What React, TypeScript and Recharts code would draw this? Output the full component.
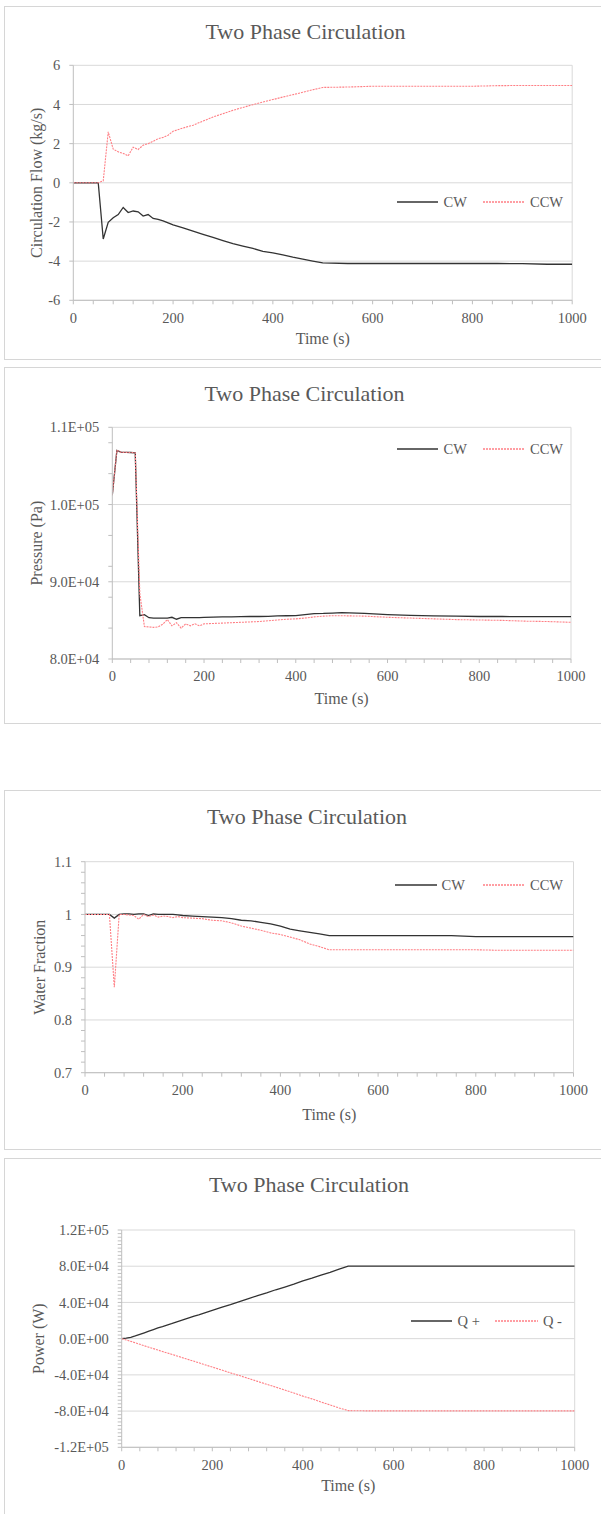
import React from 'react';
import { LineChart, Line, XAxis, YAxis, CartesianGrid, Legend } from 'recharts';

// ---------- data ----------
const TIME = [0, 10, 20, 30, 40, 50, 60, 70, 80, 90, 100, 110, 120, 130, 140, 150, 160, 170, 180, 190, 200, 220, 240, 260, 280, 300, 320, 340, 360, 380, 400, 420, 440, 460, 480, 500, 550, 600, 650, 700, 750, 800, 850, 900, 950, 1000];

const FLOW_CW = [0, 0, 0, 0, 0, 0, -2.87, -2.02, -1.78, -1.62, -1.26, -1.52, -1.44, -1.48, -1.7, -1.62, -1.82, -1.87, -1.95, -2.05, -2.15, -2.3, -2.47, -2.63, -2.79, -2.95, -3.1, -3.23, -3.35, -3.5, -3.58, -3.68, -3.8, -3.9, -4.0, -4.09, -4.12, -4.12, -4.12, -4.12, -4.12, -4.12, -4.12, -4.13, -4.16, -4.16];
const FLOW_CCW = [0, 0, 0, 0, 0, 0, 0.1, 2.6, 1.72, 1.58, 1.5, 1.38, 1.82, 1.7, 1.92, 2.0, 2.12, 2.25, 2.32, 2.43, 2.63, 2.8, 2.94, 3.15, 3.36, 3.53, 3.7, 3.85, 3.99, 4.12, 4.25, 4.38, 4.5, 4.62, 4.75, 4.87, 4.89, 4.93, 4.93, 4.93, 4.93, 4.93, 4.96, 4.97, 4.97, 4.97];

const PRESSURE_CW = [101200, 107000, 106750, 106750, 106740, 106700, 85600, 85750, 85350, 85300, 85300, 85300, 85300, 85400, 85150, 85350, 85350, 85350, 85350, 85350, 85380, 85420, 85450, 85450, 85480, 85500, 85500, 85520, 85580, 85600, 85620, 85750, 85880, 85900, 85950, 86000, 85900, 85750, 85650, 85580, 85550, 85500, 85500, 85480, 85480, 85480];
const PRESSURE_CCW = [101200, 107000, 106750, 106750, 106740, 106700, 88500, 84200, 84150, 84100, 84150, 84500, 85100, 84300, 84700, 84000, 84550, 84300, 84550, 84300, 84550, 84600, 84650, 84700, 84750, 84800, 84850, 84950, 85050, 85150, 85200, 85300, 85450, 85550, 85600, 85600, 85550, 85400, 85300, 85200, 85100, 85050, 85000, 84900, 84850, 84750];

const WATER_CW = [1, 1, 1, 1, 1, 1, 0.993, 1, 1.001, 1.001, 1, 1.001, 1.001, 0.998, 1.001, 1, 1, 1, 1, 0.999, 0.998, 0.997, 0.996, 0.995, 0.994, 0.992, 0.989, 0.988, 0.985, 0.982, 0.978, 0.972, 0.969, 0.966, 0.963, 0.96, 0.96, 0.96, 0.96, 0.96, 0.96, 0.958, 0.958, 0.958, 0.958, 0.958];
const WATER_CCW = [1, 1, 1, 1, 1, 1, 0.862, 1, 1, 0.999, 0.998, 0.991, 1, 0.996, 0.999, 0.995, 0.997, 0.996, 0.994, 0.996, 0.994, 0.993, 0.992, 0.989, 0.988, 0.984, 0.978, 0.974, 0.97, 0.965, 0.962, 0.957, 0.952, 0.944, 0.939, 0.933, 0.933, 0.933, 0.933, 0.933, 0.933, 0.933, 0.932, 0.932, 0.932, 0.932];

const POWER_QPLUS = [0, 600, 1500, 3000, 4700, 6500, 8300, 10000, 11800, 13300, 15000, 16500, 18200, 19800, 21500, 23200, 25000, 26300, 28000, 29600, 31200, 34500, 37500, 40800, 44200, 47500, 50500, 54000, 57000, 60200, 63700, 66800, 70200, 73300, 76800, 80000, 80000, 80000, 80000, 80000, 80000, 80000, 80000, 80000, 80000, 80000];
const POWER_QMINUS = [0, -1400, -3000, -4600, -6200, -7900, -9500, -11000, -12600, -14200, -15800, -17200, -18800, -20400, -22000, -23500, -25000, -26600, -28200, -29800, -31400, -34500, -37800, -40800, -44000, -47200, -50400, -53500, -56800, -60000, -63500, -66500, -70000, -73200, -76500, -79500, -79800, -79800, -79800, -79800, -79800, -79800, -79800, -79800, -79800, -79800];

// ---------- ticks ----------
const X_TICKS = [0, 40, 80, 120, 160, 200, 240, 280, 320, 360, 400, 440, 480, 520, 560, 600, 640, 680, 720, 760, 800, 840, 880, 920, 960, 1000];
const X_MAJOR = [0, 200, 400, 600, 800, 1000];
const X_LABELS = ['0', '200', '400', '600', '800', '1000'];

const FLOW_MAJOR = [-6, -4, -2, 0, 2, 4, 6];
const FLOW_LABELS = ['-6', '-4', '-2', '0', '2', '4', '6'];
const FLOW_MINOR: number[] = [];

const PRESSURE_MAJOR = [80000, 90000, 100000, 110000];
const PRESSURE_LABELS = ['8.0E+04', '9.0E+04', '1.0E+05', '1.1E+05'];
const PRESSURE_MINOR = [84000, 88000, 92000, 96000, 104000, 108000];

const WATER_MAJOR = [0.7, 0.8, 0.9, 1.0, 1.1];
const WATER_LABELS = ['0.7', '0.8', '0.9', '1', '1.1'];
const WATER_MINOR = [0.72, 0.74, 0.76, 0.78, 0.82, 0.84, 0.86, 0.88, 0.92, 0.94, 0.96, 0.98, 1.02, 1.04, 1.06, 1.08];

const POWER_MAJOR = [-120000, -80000, -40000, 0, 40000, 80000, 120000];
const POWER_LABELS = ['-1.2E+05', '-8.0E+04', '-4.0E+04', '0.0E+00', '4.0E+04', '8.0E+04', '1.2E+05'];
const POWER_MINOR = [-116000, -112000, -108000, -104000, -100000, -96000, -92000, -88000, -84000, -76000, -72000, -68000, -64000, -60000, -56000, -52000, -48000, -44000, -36000, -32000, -28000, -24000, -20000, -16000, -12000, -8000, -4000, 4000, 8000, 12000, 16000, 20000, 24000, 28000, 32000, 36000, 44000, 48000, 52000, 56000, 60000, 64000, 68000, 72000, 76000, 84000, 88000, 92000, 96000, 100000, 104000, 108000, 112000, 116000];

// ---------- styles ----------
const FONT = 'Liberation Serif';
const TEXT = '#595959';
const AXIS = '#bfbfbf';
const GRID = '#d9d9d9';
const PAGE_W = 601;
const SERIES_STYLE: Record<string, { stroke: string; width: number; dash?: string }> = {
  a: { stroke: '#333333', width: 1.3 },
  b: { stroke: '#ff7f85', width: 1.1, dash: '2 1' },
};

function fmt(majors: number[], labels: string[]) {
  return (v: number) => {
    const i = majors.findIndex((m) => Math.abs(m - v) < 1e-7 * Math.max(1, Math.abs(m)));
    return i >= 0 ? labels[i] : '';
  };
}

function rows(a: number[], b: number[]) {
  return TIME.map((t, i) => ({ t, a: a[i], b: b[i] }));
}

type LegendItem = { lineX: number; lineW: number; textX: number };

type PanelProps = {
  panelTop: number;
  panelHeight: number;
  plotTop: number;
  plotBottom: number;
  plotLeft: number;
  plotRight: number;
  xLabelCY: number;
  yLabelX: number;
  titleCX: number;
  titleCY: number;
  yTitle: string;
  domain: [number, number];
  major: number[];
  labels: string[];
  minor: number[];
  data: { t: number; a: number; b: number }[];
  names: [string, string];
  legendX: number;
  legendCY: number;
  legendItems: LegendItem[];
};

function Panel(p: PanelProps) {
  const chartTop = p.panelTop;
  const xAxisH = 2 * (p.xLabelCY - p.plotBottom);
  const height = Math.ceil(p.plotBottom - chartTop + xAxisH + 2);
  const margin = {
    top: p.plotTop - chartTop,
    right: PAGE_W - p.plotRight,
    bottom: height - (p.plotBottom - chartTop) - xAxisH,
    left: 0,
  };
  const yTicks = [...p.major, ...p.minor].sort((x, y) => x - y);
  const tickStyle = { fill: TEXT, fontSize: 14.5, fontFamily: FONT };

  const renderLegend = (props: any) => {
    const payload = [...(props.payload || [])].sort((x: any, y: any) => String(x.dataKey).localeCompare(String(y.dataKey)));
    return (
      <div style={{ position: 'relative', width: 220, height: 18, fontFamily: FONT }}>
        {payload.map((entry: any, i: number) => {
          const s = SERIES_STYLE[entry.dataKey] || SERIES_STYLE.a;
          const it = p.legendItems[i];
          return (
            <React.Fragment key={i}>
              <svg style={{ position: 'absolute', left: it.lineX, top: 0 }} width={it.lineW} height={18}>
                <line x1={0} y1={9} x2={it.lineW} y2={9} stroke={s.stroke} strokeWidth={s.width + 0.2} strokeDasharray={s.dash} />
              </svg>
              <span style={{ position: 'absolute', left: it.textX, top: 0, lineHeight: '18px', fontSize: 14.5, color: TEXT, whiteSpace: 'nowrap', fontFamily: FONT }}>
                {entry.value}
              </span>
            </React.Fragment>
          );
        })}
      </div>
    );
  };

  return (
    <>
      <div style={{ position: 'absolute', left: 4, top: p.panelTop, width: 660, height: p.panelHeight, border: '1px solid #d6d6d6', boxSizing: 'border-box' }} />
      <div style={{ position: 'absolute', left: p.titleCX, top: p.titleCY - 11.5, transform: 'translateX(-50%)', fontSize: 22, lineHeight: '22px', color: TEXT, whiteSpace: 'nowrap', fontFamily: FONT }}>
        Two Phase Circulation
      </div>
      <div style={{ position: 'absolute', left: 0, top: chartTop, fontFamily: FONT }}>
        <LineChart width={PAGE_W} height={height} data={p.data} margin={margin} style={{ fontFamily: FONT }}>
          <CartesianGrid stroke={GRID} strokeWidth={1} horizontalValues={p.major} verticalValues={[1000]} />
          <XAxis
            dataKey="t"
            type="number"
            domain={[0, 1000]}
            ticks={X_TICKS}
            interval={0}
            tickFormatter={fmt(X_MAJOR, X_LABELS)}
            tickSize={4}
            tickMargin={8}
            stroke={AXIS}
            tick={tickStyle}
            height={xAxisH}
            allowDataOverflow
            label={{ value: 'Time (s)', position: 'center', fill: TEXT, fontSize: 16, fontFamily: FONT }}
          />
          <YAxis
            type="number"
            domain={p.domain}
            ticks={yTicks}
            interval={0}
            tickFormatter={fmt(p.major, p.labels)}
            width={p.plotLeft}
            tickSize={4}
            tickMargin={9}
            stroke={AXIS}
            tick={tickStyle}
            allowDataOverflow
            label={{ value: p.yTitle, angle: -90, position: 'center', dx: p.yLabelX - p.plotLeft / 2, fill: TEXT, fontSize: 16, fontFamily: FONT }}
          />
          <Legend
            layout="vertical"
            align="center"
            verticalAlign="middle"
            itemSorter="dataKey"
            content={renderLegend}
            wrapperStyle={{ left: p.legendX, top: p.legendCY - 9 - chartTop, width: 220, height: 18 }}
          />
          <Line
            type="linear"
            dataKey="a"
            name={p.names[0]}
            stroke={SERIES_STYLE.a.stroke}
            strokeWidth={SERIES_STYLE.a.width}
            dot={false}
            activeDot={false}
            isAnimationActive={false}
          />
          <Line
            type="linear"
            dataKey="b"
            name={p.names[1]}
            stroke={SERIES_STYLE.b.stroke}
            strokeWidth={SERIES_STYLE.b.width}
            strokeDasharray={SERIES_STYLE.b.dash}
            dot={false}
            activeDot={false}
            isAnimationActive={false}
          />
        </LineChart>
      </div>
    </>
  );
}

export default function App() {
  return (
    <div style={{ position: 'absolute', left: 0, top: 0, width: PAGE_W, height: 1514, overflow: 'hidden', background: '#ffffff', fontFamily: FONT }}>
      <Panel
        panelTop={6}
        panelHeight={354}
        plotTop={65.3}
        plotBottom={300.3}
        plotLeft={73.3}
        plotRight={572.2}
        xLabelCY={338.7}
        yLabelX={36}
        titleCX={305.5}
        titleCY={32.5}
        yTitle="Circulation Flow (kg/s)"
        domain={[-6, 6]}
        major={FLOW_MAJOR}
        labels={FLOW_LABELS}
        minor={FLOW_MINOR}
        data={rows(FLOW_CW, FLOW_CCW)}
        names={['CW', 'CCW']}
        legendX={397}
        legendCY={202}
        legendItems={[{ lineX: 0, lineW: 41, textX: 46.5 }, { lineX: 85.6, lineW: 41, textX: 133 }]}
      />
      <Panel
        panelTop={367}
        panelHeight={357}
        plotTop={427.3}
        plotBottom={659}
        plotLeft={112.3}
        plotRight={571}
        xLabelCY={698.5}
        yLabelX={36.5}
        titleCX={304.5}
        titleCY={394.5}
        yTitle="Pressure (Pa)"
        domain={[80000, 110000]}
        major={PRESSURE_MAJOR}
        labels={PRESSURE_LABELS}
        minor={PRESSURE_MINOR}
        data={rows(PRESSURE_CW, PRESSURE_CCW)}
        names={['CW', 'CCW']}
        legendX={397}
        legendCY={449.3}
        legendItems={[{ lineX: 0, lineW: 41, textX: 46.5 }, { lineX: 85.6, lineW: 41, textX: 133 }]}
      />
      <Panel
        panelTop={790}
        panelHeight={360}
        plotTop={861.7}
        plotBottom={1072.7}
        plotLeft={85}
        plotRight={573.5}
        xLabelCY={1114.2}
        yLabelX={39}
        titleCX={307}
        titleCY={817.3}
        yTitle="Water Fraction"
        domain={[0.7, 1.1]}
        major={WATER_MAJOR}
        labels={WATER_LABELS}
        minor={WATER_MINOR}
        data={rows(WATER_CW, WATER_CCW)}
        names={['CW', 'CCW']}
        legendX={395}
        legendCY={885}
        legendItems={[{ lineX: 0, lineW: 42, textX: 46.6 }, { lineX: 87.6, lineW: 41, textX: 135 }]}
      />
      <Panel
        panelTop={1158}
        panelHeight={400}
        plotTop={1230}
        plotBottom={1447.3}
        plotLeft={121.7}
        plotRight={574.7}
        xLabelCY={1485.5}
        yLabelX={38}
        titleCX={309}
        titleCY={1185}
        yTitle="Power (W)"
        domain={[-120000, 120000]}
        major={POWER_MAJOR}
        labels={POWER_LABELS}
        minor={POWER_MINOR}
        data={rows(POWER_QPLUS, POWER_QMINUS)}
        names={['Q +', 'Q -']}
        legendX={410.6}
        legendCY={1320.7}
        legendItems={[{ lineX: 0, lineW: 41.4, textX: 47 }, { lineX: 84.4, lineW: 43, textX: 132.4 }]}
      />
    </div>
  );
}
